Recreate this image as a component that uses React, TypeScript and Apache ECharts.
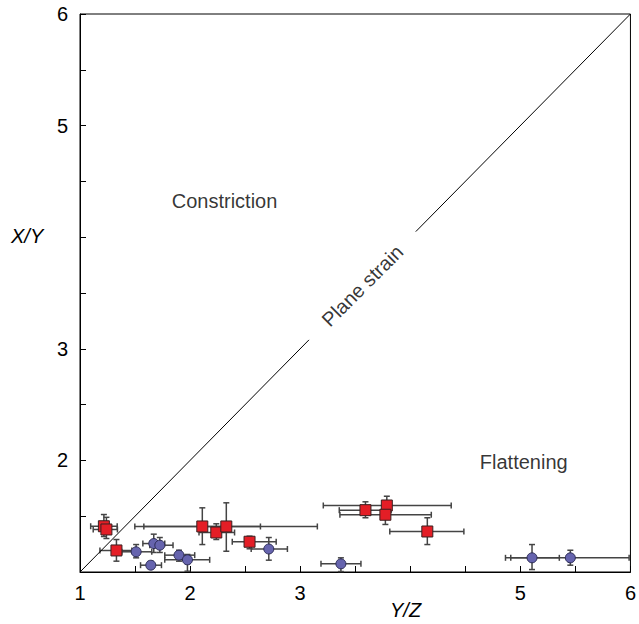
import React, { useEffect, useRef } from "react";
import * as echarts from "echarts";

// Red squares: [x, y, xLow, xHigh, yLow, yHigh]
const redX = [1.217, 1.24, 1.331, 2.111, 2.238, 2.329, 2.54, 3.593, 3.787, 3.774, 4.155];
const redY = [1.41, 1.381, 1.193, 1.408, 1.354, 1.408, 1.271, 1.554, 1.596, 1.513, 1.363];
const redXLow = [1.097, 1.12, 1.181, 1.58, 2.081, 1.498, 2.383, 3.355, 3.21, 3.361, 3.814];
const redXHigh = [1.338, 1.34, 1.471, 2.639, 2.404, 3.156, 2.782, 3.826, 4.372, 4.191, 4.487];
const redYLow = [1.318, 1.3, 1.097, 1.246, 1.291, 1.186, 1.208, 1.486, 1.533, 1.426, 1.246];
const redYHigh = [1.515, 1.49, 1.291, 1.575, 1.432, 1.62, 1.321, 1.629, 1.679, 1.596, 1.486];

// Blue circles
const blueX = [1.51, 1.643, 1.67, 1.725, 1.899, 1.976, 2.715, 3.37, 5.106, 5.454];
const blueY = [1.181, 1.061, 1.255, 1.24, 1.151, 1.109, 1.206, 1.073, 1.127, 1.127];
const blueXLow = [1.38, 1.55, 1.571, 1.634, 1.77, 1.77, 2.555, 3.189, 4.865, 4.913];
const blueXHigh = [1.652, 1.74, 1.77, 1.845, 2.042, 2.178, 2.884, 3.552, 5.354, 5.988];
const blueYLow = [1.127, 1.031, 1.175, 1.175, 1.097, 1.007, 1.106, 1.004, 1.022, 1.061];
const blueYHigh = [1.246, 1.094, 1.339, 1.309, 1.195, 1.157, 1.309, 1.127, 1.246, 1.195];

// Plane strain line (X/Y = Y/Z) with a gap for its label
const planeLow = [1, 3.08];
const planeHigh = [4.05, 6];

const annotations = [
  { name: "Constriction", x: 2.313, y: 4.327, rotate: 0 },
  { name: "Flattening", x: 5.031, y: 1.99, rotate: 0 },
  { name: "Plane strain", x: 3.565, y: 3.565, rotate: 45 },
];

const axisMin = 1;
const axisMax = 6;
const tickStep = 0.5;
const hiddenXLabels = [4];
const hiddenYLabels = [1, 4];

const FONT = "'Liberation Sans', Arial, Helvetica, sans-serif";

function build(xs: number[], ys: number[], xl: number[], xh: number[], yl: number[], yh: number[]) {
  return xs.map((x, i) => [x, ys[i], xl[i], xh[i], yl[i], yh[i]]);
}

function errRender(color: string) {
  return (params: any, api: any) => {
    const x = api.value(0);
    const y = api.value(1);
    const pL = api.coord([api.value(2), y]);
    const pR = api.coord([api.value(3), y]);
    const pB = api.coord([x, api.value(4)]);
    const pT = api.coord([x, api.value(5)]);
    const c = 3;
    const st = { stroke: color, lineWidth: 1.5 };
    const ln = (x1: number, y1: number, x2: number, y2: number) => ({
      type: "line",
      shape: { x1, y1, x2, y2 },
      style: st,
    });
    return {
      type: "group",
      children: [
        ln(pL[0], pL[1], pR[0], pR[1]),
        ln(pL[0], pL[1] - c, pL[0], pL[1] + c),
        ln(pR[0], pR[1] - c, pR[0], pR[1] + c),
        ln(pB[0], pB[1], pT[0], pT[1]),
        ln(pB[0] - c, pB[1], pB[0] + c, pB[1]),
        ln(pT[0] - c, pT[1], pT[0] + c, pT[1]),
      ],
    };
  };
}

export default function App() {
  const ref = useRef<HTMLDivElement>(null);
  useEffect(() => {
    if (!ref.current) return;
    const chart = echarts.init(ref.current, undefined, { renderer: "svg" });
    const red = build(redX, redY, redXLow, redXHigh, redYLow, redYHigh);
    const blue = build(blueX, blueY, blueXLow, blueXHigh, blueYLow, blueYHigh);
    const axisCommon = {
      type: "value",
      min: axisMin,
      max: axisMax,
      interval: tickStep,
      splitLine: { show: false },
      axisLine: { show: true, lineStyle: { color: "#000", width: 1 } },
      axisTick: { show: true, inside: true, length: 6, lineStyle: { color: "#000", width: 1 } },
    };
    chart.setOption({
      animation: false,
      backgroundColor: "#fff",
      textStyle: { fontFamily: FONT },
      grid: {
        left: 80,
        right: 7,
        top: 14,
        bottom: 52,
        show: true,
        borderColor: "#000",
        borderWidth: 1,
        backgroundColor: "transparent",
      },
      xAxis: {
        ...axisCommon,
        axisLabel: {
          fontFamily: FONT,
          fontSize: 20,
          color: "#000",
          margin: 11,
          showMinLabel: true,
          showMaxLabel: true,
          formatter: (v: number) =>
            Number.isInteger(v) && !hiddenXLabels.includes(v) ? String(v) : "",
        },
      },
      yAxis: {
        ...axisCommon,
        axisLabel: {
          fontFamily: FONT,
          fontSize: 20,
          color: "#000",
          margin: 12,
          showMinLabel: true,
          showMaxLabel: true,
          formatter: (v: number) =>
            Number.isInteger(v) && !hiddenYLabels.includes(v) ? String(v) : "",
        },
      },
      graphic: [
        {
          type: "text",
          left: 11,
          top: 226,
          style: { text: "X/Y", font: `italic 20px ${FONT}`, fill: "#000" },
        },
        {
          type: "text",
          left: 390,
          top: 600,
          style: { text: "Y/Z", font: `italic 20px ${FONT}`, fill: "#000" },
        },
      ],
      series: [
        {
          type: "line",
          data: [
            [planeLow[0], planeLow[0]],
            [planeLow[1], planeLow[1]],
          ],
          symbol: "none",
          lineStyle: { color: "#000", width: 1 },
          silent: true,
        },
        {
          type: "line",
          data: [
            [planeHigh[0], planeHigh[0]],
            [planeHigh[1], planeHigh[1]],
          ],
          symbol: "none",
          lineStyle: { color: "#000", width: 1 },
          silent: true,
        },
        {
          type: "scatter",
          symbolSize: 0,
          silent: true,
          data: annotations.map((a) => ({
            value: [a.x, a.y],
            name: a.name,
            label: { rotate: a.rotate },
          })),
          label: {
            show: true,
            position: "inside",
            formatter: (p: any) => p.name,
            fontFamily: FONT,
            fontSize: 20,
            color: "#000",
          },
        },
        {
          type: "custom",
          renderItem: errRender("#444"),
          data: blue,
          encode: { x: 0, y: 1 },
          z: 3,
        },
        {
          type: "custom",
          renderItem: errRender("#444"),
          data: red,
          encode: { x: 0, y: 1 },
          z: 3,
        },
        {
          type: "scatter",
          symbol: "circle",
          symbolSize: 10,
          data: blue.map((d) => [d[0], d[1]]),
          itemStyle: { color: "#6664ae", borderColor: "#2b2b55", borderWidth: 1, opacity: 1 },
          z: 5,
        },
        {
          type: "scatter",
          symbol: "rect",
          symbolSize: 11,
          data: red.map((d) => [d[0], d[1]]),
          itemStyle: { color: "#e41e26", borderColor: "#3a2020", borderWidth: 1, opacity: 1 },
          z: 6,
        },
      ],
    });
    return () => chart.dispose();
  }, []);
  return (
    <div
      ref={ref}
      style={{ position: "fixed", left: 0, top: 0, width: 639, height: 624 }}
    />
  );
}
